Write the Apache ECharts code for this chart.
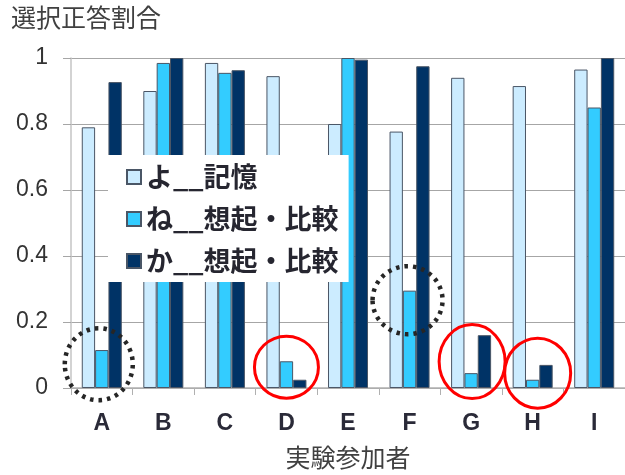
<!DOCTYPE html>
<html>
<head>
<meta charset="utf-8">
<script src="https://cdn.jsdelivr.net/npm/echarts@6/dist/echarts.min.js"></script>
<style>
  html, body { margin: 0; padding: 0; background: #fff; }
  #chart { width: 625px; height: 475px; }
</style>
</head>
<body>
<div id="chart"></div>
<script>
// Participants and the share of correct choices per condition
const participants = ['A', 'B', 'C', 'D', 'E', 'F', 'G', 'H', 'I'];
const seriesNames = ['よ__記憶', 'ね__想起・比較', 'か__想起・比較'];
const yoMemory   = [0.79, 0.90, 0.985, 0.945, 0.80, 0.777, 0.94, 0.915, 0.965];
const neRecall   = [0.115, 0.985, 0.955, 0.081, 1.00, 0.295, 0.045, 0.025, 0.85];
const kaRecall   = [0.927, 1.00, 0.963, 0.025, 0.995, 0.975, 0.16, 0.07, 1.00];
const yTicks     = [0, 0.2, 0.4, 0.6, 0.8, 1];

// Highlight rings: participant, centre value, radii (px), horizontal nudge (px)
const redRingCats   = ['D', 'G', 'H'];
const redRingValues = [0.063, 0.08, 0.045];
const redRingRx     = [32, 33, 33];
const redRingRy     = [31, 37, 35];
const redRingDx     = [0, 1, 5];
const dotRingCats   = ['A', 'F'];
const dotRingValues = [0.072, 0.266];
const dotRingRx     = [34, 35];
const dotRingRy     = [36, 34];
const dotRingDx     = [-3, -2];

const colors = ['#CCECFF', '#33CCFF', '#003366'];
const CJK = '"Noto Sans CJK JP", "Noto Sans", sans-serif';
const LATIN = '"Liberation Sans", Arial, sans-serif';

const chart = echarts.init(document.getElementById('chart'), null, { renderer: 'canvas' });

const values = [yoMemory, neRecall, kaRecall];

chart.setOption({
  animation: false,
  backgroundColor: '#ffffff',
  title: {
    text: '選択正答割合',
    left: 11,
    top: 5,
    padding: 0,
    textStyle: { fontFamily: CJK, fontSize: 25, fontWeight: 'normal', color: '#404040' }
  },
  grid: { left: 71, top: 58, width: 555, height: 331, containLabel: false },
  legend: {
    orient: 'vertical',
    left: 108,
    top: 155,
    padding: [8, 10, 7, 18],
    backgroundColor: '#ffffff',
    itemWidth: 14,
    itemHeight: 14,
    itemGap: 14,
    icon: 'rect',
    z: 10,
    textStyle: { fontFamily: CJK, fontSize: 27, fontWeight: 'bold', color: '#262630', lineHeight: 28 },
    data: seriesNames
  },
  xAxis: {
    type: 'category',
    data: participants,
    name: '実験参加者',
    nameLocation: 'middle',
    nameGap: 57,
    nameTextStyle: { fontFamily: CJK, fontSize: 25, color: '#404040' },
    axisLine: { lineStyle: { color: '#B0B0B0', width: 1.5 } },
    axisTick: { show: true, length: 7, interval: 0, lineStyle: { color: '#B0B0B0' } },
    axisLabel: { margin: 24, fontFamily: LATIN, fontSize: 23, fontWeight: 'bold', color: '#2a2a38' }
  },
  yAxis: {
    type: 'value',
    min: 0,
    max: 1,
    interval: 0.2,
    axisLine: { show: true, lineStyle: { color: '#C4C4C4', width: 1.5 } },
    axisTick: { show: true, length: 8, lineStyle: { color: '#A6A6A6' } },
    axisLabel: {
      margin: 23,
      fontFamily: LATIN,
      fontSize: 23,
      color: '#333333',
      formatter: v => (yTicks.includes(Math.round(v * 10) / 10) ? String(Math.round(v * 10) / 10) : '')
    },
    splitLine: { lineStyle: { color: '#A6A6A6', width: 1 } }
  },
  series: seriesNames.map((name, i) => ({
    name,
    type: 'bar',
    data: values[i],
    barGap: '0%',
    barCategoryGap: '35%',
    itemStyle: { color: colors[i], borderColor: '#4a5666', borderWidth: 1 }
  }))
});

// Rings drawn around selected bars, positioned through the axes
function ring(cat, value, rx, ry, dx, style) {
  const p = chart.convertToPixel({ gridIndex: 0 }, [cat, value]);
  return {
    type: 'ellipse',
    z: 20,
    shape: { cx: p[0] + dx, cy: p[1], rx, ry },
    style: Object.assign({ fill: null }, style)
  };
}

const rings = [];
redRingCats.forEach((c, i) => rings.push(ring(c, redRingValues[i], redRingRx[i], redRingRy[i], redRingDx[i],
  { stroke: '#FF0000', lineWidth: 3 })));
dotRingCats.forEach((c, i) => rings.push(ring(c, dotRingValues[i], dotRingRx[i], dotRingRy[i], dotRingDx[i],
  { stroke: '#262626', lineWidth: 4.5, lineDash: [3.5, 5], lineCap: 'butt' })));

chart.setOption({ graphic: rings });
</script>
</body>
</html>
